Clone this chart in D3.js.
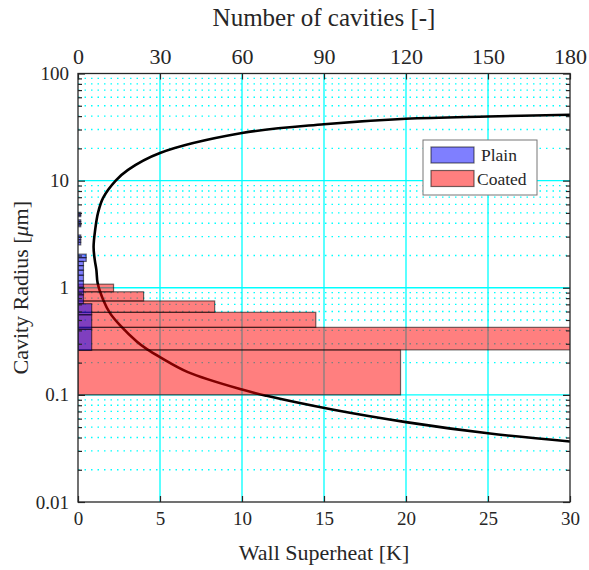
<html>
<head>
<meta charset="utf-8">
<style>
body { margin:0; background:#ffffff; }
text { font-family:"Liberation Serif","Times New Roman",serif; fill:#262626; }
</style>
</head>
<body>
<svg id="chart"></svg>
<script src="https://d3js.org/d3.v7.min.js"></script>
<script>

// coated surface histogram: bin edges [um] and counts
var coatedEdges = [0.1, 0.263, 0.427, 0.59, 0.753, 0.917, 1.08];
var coatedCounts = [118, 200, 87, 50, 24, 13];

// plain surface histogram: bin edges [um] and counts
var plainEdges = [0.26, 0.41, 0.56, 0.71, 0.86, 1.01, 1.16, 1.31, 1.46, 1.61, 1.76,
    1.91, 2.06, 2.21, 2.36, 2.51, 2.66, 2.81, 2.96, 3.11, 3.26, 3.41, 3.56, 3.71,
    3.86, 4.01, 4.16, 4.31, 4.46, 4.61, 4.76, 4.91, 5.06];
var plainCounts = [5, 5, 5, 2, 2, 2, 2, 2, 2, 2, 3,
    3, 0, 0, 0, 1, 1, 1, 1, 0, 0, 0, 0, 1,
    1, 1, 1, 0, 0, 1, 1, 1];

// active cavity range curve (wall superheat [K], radius [um]), upper branch -> lower branch
var curveDT = [30, 25, 20, 15, 10, 5, 3.05, 2.3, 1.53, 1.22, 1.05, 0.95, 1.02, 1.12,
    1.2, 1.54, 1.95, 2.6, 3.58, 4.2, 5, 6.7, 10, 11.5, 15.5, 20, 25, 30];
var curveR = [41.2, 39.7, 37.8, 33.6, 27.8, 18.1, 12.6, 10, 6.9, 5.0, 3.5, 2.4, 1.83, 1.47,
    1.1, 0.77, 0.58, 0.44, 0.315, 0.267, 0.225, 0.163, 0.112, 0.098, 0.073, 0.0557, 0.0438, 0.0367];

var xTicks = [0, 5, 10, 15, 20, 25, 30];
var topTicks = [0, 30, 60, 90, 120, 150, 180];
var yTicks = [0.01, 0.1, 1, 10, 100];
var yTickLabels = ["0.01", "0.1", "1", "10", "100"];

var size = {width:589, height:570};
var margins = {top:73.5, bottom:68, left:78, right:19};
var graph = {
    width:size.width-margins.left-margins.right,
    height:size.height-margins.top-margins.bottom
};

var svg = d3.select("#chart")
    .attr("width",size.width)
    .attr("height",size.height);

var xScale = d3.scaleLinear().domain([0,30]).range([0,graph.width]);
var nScale = d3.scaleLinear().domain([0,180]).range([0,graph.width]);
var yScale = d3.scaleLog().domain([0.01,100]).range([graph.height,0]);

var g = svg.append("g")
    .attr("transform","translate("+margins.left+","+margins.top+")");

svg.append("clipPath").attr("id","clip")
    .append("rect").attr("width",graph.width).attr("height",graph.height);

// grid
var minorY = [];
[0.01,0.1,1,10].forEach(function(d){
    for (var k=2;k<10;k++) minorY.push(d*k);
});

var grid = g.append("g");
grid.selectAll(".minor").data(minorY).enter().append("line")
    .attr("x1",0).attr("x2",graph.width)
    .attr("y1",function(d){return yScale(d);})
    .attr("y2",function(d){return yScale(d);})
    .attr("stroke","#00ffff").attr("stroke-width",1.3)
    .attr("stroke-dasharray","1.5,5");
grid.selectAll(".majy").data([0.1,1,10]).enter().append("line")
    .attr("x1",0).attr("x2",graph.width)
    .attr("y1",function(d){return yScale(d);})
    .attr("y2",function(d){return yScale(d);})
    .attr("stroke","#00ffff").attr("stroke-width",1.3);
grid.selectAll(".majx").data([5,10,15,20,25]).enter().append("line")
    .attr("y1",0).attr("y2",graph.height)
    .attr("x1",function(d){return xScale(d);})
    .attr("x2",function(d){return xScale(d);})
    .attr("stroke","#00ffff").attr("stroke-width",1.3);

// curve (drawn under the translucent bars)
var pts = curveDT.map(function(d,i){return [d,curveR[i]];});
var line = d3.line()
    .x(function(d){return xScale(d[0]);})
    .y(function(d){return yScale(d[1]);})
    .curve(d3.curveCatmullRom.alpha(0.5));
g.append("path").datum(pts)
    .attr("d",line)
    .attr("fill","none")
    .attr("stroke","#000")
    .attr("stroke-width",2.6)
    .attr("clip-path","url(#clip)");

// histograms
var makeBins = function(edges,counts){
    return counts.map(function(c,i){return {r0:edges[i],r1:edges[i+1],n:c};})
        .filter(function(b){return b.n>0;});
};

var drawBars = function(bins,color){
    g.append("g").attr("clip-path","url(#clip)")
        .selectAll("rect").data(bins).enter().append("rect")
        .attr("x",0)
        .attr("y",function(b){return yScale(b.r1);})
        .attr("width",function(b){return nScale(b.n);})
        .attr("height",function(b){return yScale(b.r0)-yScale(b.r1);})
        .attr("fill",color)
        .attr("fill-opacity",0.5)
        .attr("stroke","#000")
        .attr("stroke-opacity",0.55)
        .attr("stroke-width",1.2);
};
drawBars(makeBins(coatedEdges,coatedCounts),"#ff0000");
drawBars(makeBins(plainEdges,plainCounts),"#0000ff");

// axes
var axisColor = "#262626";
var styleAxis = function(sel,fs){
    sel.select(".domain").remove();
    sel.selectAll(".tick line").attr("stroke",axisColor).attr("stroke-width",1.2);
    sel.selectAll(".tick text").style("font-size",fs+"px").attr("fill",axisColor)
        .style("font-family","'Liberation Serif','Times New Roman',serif");
};

var bottomAxis = g.append("g").attr("transform","translate(0,"+graph.height+")")
    .call(d3.axisBottom(xScale).tickValues(xTicks).tickSizeInner(-6).tickSizeOuter(0).tickPadding(10));
styleAxis(bottomAxis,19);

var topAxis = g.append("g")
    .call(d3.axisTop(nScale).tickValues(topTicks).tickSizeInner(-6).tickSizeOuter(0).tickPadding(10));
styleAxis(topAxis,22);

var leftAxis = g.append("g")
    .call(d3.axisLeft(yScale).tickValues(yTicks)
        .tickFormat(function(d,i){return yTickLabels[i];})
        .tickSizeInner(-7).tickSizeOuter(0).tickPadding(9));
styleAxis(leftAxis,19);

var leftMinor = g.append("g")
    .call(d3.axisLeft(yScale).tickValues(minorY).tickFormat("").tickSizeInner(-4).tickSizeOuter(0));
styleAxis(leftMinor,19);

var rightAxis = g.append("g").attr("transform","translate("+graph.width+",0)")
    .call(d3.axisRight(yScale).tickValues(yTicks).tickFormat("").tickSizeInner(-7).tickSizeOuter(0));
styleAxis(rightAxis,19);
var rightMinor = g.append("g").attr("transform","translate("+graph.width+",0)")
    .call(d3.axisRight(yScale).tickValues(minorY).tickFormat("").tickSizeInner(-4).tickSizeOuter(0));
styleAxis(rightMinor,19);

g.append("rect")
    .attr("width",graph.width).attr("height",graph.height)
    .attr("fill","none").attr("stroke",axisColor).attr("stroke-width",1.3);

// axis labels
svg.append("text")
    .attr("x",margins.left+graph.width/2).attr("y",560)
    .attr("text-anchor","middle").style("font-size","22px")
    .text("Wall Superheat [K]");

svg.append("text")
    .attr("x",margins.left+graph.width/2).attr("y",26)
    .attr("text-anchor","middle").style("font-size","25px")
    .text("Number of cavities [-]");

var ylab = svg.append("text")
    .attr("transform","translate(28,"+(margins.top+graph.height/2)+") rotate(-90)")
    .attr("text-anchor","middle").style("font-size","22px");
ylab.append("tspan").text("Cavity Radius [");
ylab.append("tspan").style("font-style","italic").text("\u03bc");
ylab.append("tspan").text("m]");

// legend
var legend = svg.append("g").attr("transform","translate(423,140)");
legend.append("rect").attr("width",114).attr("height",55)
    .attr("fill","#fff").attr("stroke","#777").attr("stroke-width",1);
var legendItems = [{name:"Plain",color:"#0000ff"},{name:"Coated",color:"#ff0000"}];
legend.selectAll(".sw").data(legendItems).enter().append("rect")
    .attr("x",8).attr("y",function(d,i){return 7+i*23.5;})
    .attr("width",43).attr("height",16)
    .attr("fill",function(d){return d.color;}).attr("fill-opacity",0.5)
    .attr("stroke","#000").attr("stroke-opacity",0.55).attr("stroke-width",1.2);
legend.selectAll(".lt").data(legendItems).enter().append("text")
    .attr("x",function(d,i){return i==0?58:54;})
    .attr("y",function(d,i){return 21+i*23.5;})
    .style("font-size","17.5px")
    .text(function(d){return d.name;});

</script>
</body>
</html>
